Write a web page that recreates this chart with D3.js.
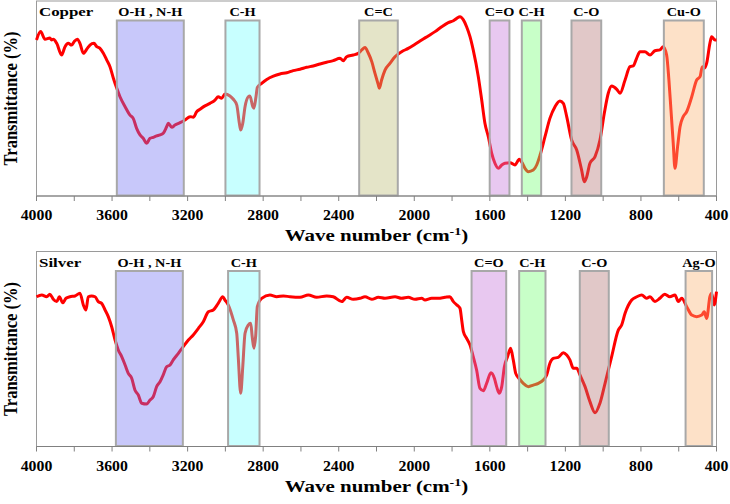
<!DOCTYPE html>
<html>
  <head>
    <style>
      body { margin: 0; background: #fff; }
      text { font-family: "Liberation Serif", "Times New Roman", serif; font-weight: bold; fill: #000; }
    </style>
  </head>
  <body>
    <script src="https://d3js.org/d3.v7.min.js"></script>
    <script>
      // FTIR spectra: [wavenumber, transmittance]
      const copper = [
        [4000,80.0],[3978,84.3],[3955,80.4],[3929,81.0],[3920,80.0],[3911,80.4],[3893,78.3],[3867,72.3],
        [3849,76.6],[3832,78.3],[3814,77.4],[3801,79.1],[3784,80.4],[3770,78.3],[3752,73.2],[3731,75.7],
        [3717,77.4],[3696,78.3],[3681,76.6],[3664,75.7],[3646,73.2],[3628,69.7],[3611,66.3],[3593,60.4],
        [3575,55.2],[3558,50.9],[3531,45.8],[3505,41.5],[3488,39.8],[3470,34.7],[3452,31.3],[3435,29.6],
        [3417,27.0],[3399,29.6],[3382,30.1],[3364,30.8],[3346,31.3],[3329,32.2],[3311,35.5],[3302,37.3],
        [3284,35.2],[3267,36.4],[3240,37.6],[3214,39.0],[3187,40.7],[3170,40.4],[3152,43.2],[3134,44.5],
        [3108,46.2],[3082,47.5],[3055,49.2],[3038,50.9],[3020,50.1],[3002,52.3],[2976,51.3],[2958,49.6],
        [2940,46.7],[2926,37.3],[2919,33.8],[2908,37.3],[2896,45.8],[2879,50.9],[2870,51.3],[2855,45.8],
        [2849,45.0],[2838,50.9],[2831,55.7],[2808,57.8],[2781,59.8],[2746,61.5],[2711,62.6],[2675,63.2],
        [2641,64.3],[2605,65.0],[2570,66.0],[2535,66.7],[2499,67.7],[2464,68.6],[2429,69.4],[2393,70.6],
        [2376,69.4],[2358,71.4],[2323,72.3],[2296,73.2],[2278,74.9],[2261,76.1],[2243,73.2],[2225,68.9],
        [2208,62.9],[2190,56.9],[2185,55.2],[2173,59.5],[2155,64.6],[2129,68.0],[2102,71.4],[2067,74.0],
        [2032,75.7],[1996,77.8],[1961,80.0],[1926,82.1],[1890,84.3],[1855,86.8],[1820,88.9],[1793,89.9],
        [1775,91.1],[1758,91.9],[1740,90.3],[1723,86.8],[1705,81.7],[1688,74.9],[1661,61.2],[1643,49.2],
        [1626,37.3],[1608,30.4],[1590,21.9],[1573,16.8],[1555,14.2],[1537,15.9],[1520,16.8],[1493,17.1],
        [1467,15.9],[1444,18.8],[1431,17.4],[1414,14.2],[1396,12.5],[1370,13.3],[1352,15.9],[1334,21.0],
        [1308,30.4],[1282,39.8],[1255,45.8],[1229,48.7],[1211,47.5],[1193,40.7],[1167,28.7],[1140,23.6],
        [1114,13.3],[1100,7.3],[1087,9.9],[1070,16.8],[1043,20.2],[1017,28.7],[994,42.4],[973,52.7],
        [955,56.4],[928,54.7],[911,52.7],[884,59.5],[858,66.3],[841,66.7],[823,70.6],[805,74.0],
        [779,74.0],[752,72.3],[726,74.5],[700,74.9],[682,76.6],[664,72.3],[652,59.5],[641,44.1],
        [629,27.0],[620,14.2],[606,25.3],[593,35.5],[576,40.7],[558,43.2],[531,50.9],[505,59.5],
        [487,61.2],[475,66.3],[465,65.5],[452,68.1],[435,78.3],[426,81.7],[408,80.0],[400,80.0]
      ];
      const silver = [
        [4000,76.8],[3972,77.7],[3946,76.8],[3929,78.1],[3911,75.5],[3893,74.3],[3879,76.8],[3861,73.7],
        [3844,76.0],[3823,76.8],[3796,77.2],[3770,78.6],[3752,72.6],[3738,70.0],[3726,76.8],[3708,77.2],
        [3690,76.8],[3673,74.3],[3655,73.4],[3637,70.0],[3620,66.6],[3602,61.4],[3584,54.6],[3567,49.5],
        [3549,46.1],[3531,41.8],[3514,37.5],[3496,35.0],[3479,29.0],[3461,26.4],[3443,22.2],[3417,21.8],
        [3399,23.8],[3382,25.5],[3364,30.7],[3346,33.2],[3329,36.7],[3311,40.9],[3293,41.8],[3276,44.4],
        [3249,47.8],[3223,51.2],[3196,54.6],[3170,57.2],[3143,60.6],[3117,64.0],[3090,69.1],[3064,70.0],
        [3038,73.4],[3014,76.8],[3002,75.1],[2985,72.6],[2958,64.9],[2940,58.1],[2932,46.1],[2919,27.3],
        [2908,40.9],[2896,58.1],[2879,62.3],[2866,63.2],[2858,56.3],[2849,50.4],[2840,56.3],[2831,71.7],
        [2808,76.0],[2764,77.7],[2728,76.8],[2693,77.2],[2658,76.8],[2605,76.5],[2561,77.7],[2517,76.5],
        [2464,77.2],[2429,76.8],[2384,74.3],[2358,76.5],[2323,75.5],[2287,76.0],[2261,76.8],[2225,75.5],
        [2190,76.5],[2155,76.0],[2102,76.8],[2067,76.0],[2032,76.5],[1996,75.5],[1961,76.0],[1943,75.1],
        [1908,76.0],[1873,76.0],[1837,76.5],[1811,76.8],[1793,74.3],[1775,72.6],[1758,70.9],[1749,64.9],
        [1740,58.9],[1723,55.5],[1705,52.1],[1688,46.1],[1670,39.2],[1652,29.8],[1634,28.6],[1617,32.4],
        [1594,37.8],[1576,35.0],[1564,30.7],[1550,27.3],[1537,30.7],[1523,40.9],[1506,46.1],[1490,50.4],
        [1476,44.4],[1463,37.5],[1446,35.0],[1423,32.4],[1396,30.7],[1370,31.5],[1343,32.4],[1317,34.1],
        [1299,36.7],[1282,42.7],[1264,45.2],[1238,45.7],[1211,48.1],[1193,46.9],[1176,44.4],[1158,40.1],
        [1140,40.1],[1123,36.7],[1096,30.7],[1070,23.0],[1043,17.3],[1017,22.2],[990,32.4],[955,46.1],
        [920,59.7],[902,62.3],[884,68.3],[849,75.1],[822,76.8],[796,77.7],[770,76.0],[752,76.8],
        [726,74.3],[700,76.0],[674,78.1],[647,76.8],[620,77.7],[602,74.3],[584,76.0],[558,71.7],
        [531,67.4],[505,66.6],[478,67.4],[465,69.1],[452,65.7],[435,76.8],[426,78.6],[412,72.6],[400,79.4]
      ];
      // absorption bands: [label, from, to] in cm-1
      const copperBands = [
        ["O-H , N-H", 3580, 3215], ["C-H", 3005, 2814], ["C=C", 2297, 2082], ["C=O", 1606, 1491],
        ["C-H", 1436, 1323], ["C-O", 1173, 1005], ["Cu-O", 684, 462]
      ];
      const silverBands = [
        ["O-H , N-H", 3585, 3220], ["C-H", 2991, 2814], ["C=O", 1702, 1508],
        ["C-H", 1450, 1300], ["C-O", 1129, 965], ["Ag-O", 569, 418]
      ];
      const copperFills = ["#7676f3", "#76ffff", "#bcbc76", "#c676da", "#76ff76", "#b47676", "#fab476"];
      const silverFills = ["#7676f3", "#76ffff", "#c676da", "#76ff76", "#b47676", "#fab476"];
      const tickLabels = d3.range(4000, 399, -400);
      const minorTicks = d3.range(4000, 399, -200);

      const svg = d3.select("body").append("svg")
        .attr("width", 730)
        .attr("height", 504);

      const x = d3.scaleLinear().domain([4000, 400]).range([36.5, 716.5]);

      function stretched(g, str, px, py, k) {
        return g.append("text")
          .attr("transform", "translate(" + px + "," + py + ") scale(" + k + ",1)")
          .text(str);
      }

      function drawPanel(name, data, bands, fills, top) {
        const bottom = top + 195;
        const y = d3.scaleLinear().domain([0, 100]).range([bottom, top]);
        const g = svg.append("g");

        // frame
        g.append("rect")
          .attr("x", x(4000)).attr("y", top)
          .attr("width", x(400) - x(4000)).attr("height", bottom - top)
          .attr("fill", "none").attr("stroke", "#9a9a9a").attr("stroke-width", 1);

        // spectrum
        const line = d3.line()
          .x(d => x(d[0]))
          .y(d => y(d[1]))
          .curve(d3.curveMonotoneX);
        g.append("path")
          .datum(data)
          .attr("d", line)
          .attr("fill", "none")
          .attr("stroke", "#ff0000")
          .attr("stroke-width", 3)
          .attr("stroke-linejoin", "round");

        // bands on top of the curve (semi transparent)
        bands.forEach((b, i) => {
          g.append("rect")
            .attr("x", x(b[1]) + 1)
            .attr("y", top + 19.5)
            .attr("width", x(b[2]) - x(b[1]) - 2)
            .attr("height", bottom - top - 20)
            .attr("fill", fills[i])
            .attr("fill-opacity", 0.4)
            .attr("stroke", "#a8a8a8")
            .attr("stroke-width", 2);
          stretched(g, b[0], (x(b[1]) + x(b[2])) / 2, top + 15, 1.1)
            .attr("text-anchor", "middle")
            .attr("font-size", 13);
        });

        stretched(g, name, 39, top + 15, 1.25)
          .attr("font-size", 13.5);

        // x axis
        const axis = g.append("g").attr("transform", "translate(0," + bottom + ")");
        axis.append("line")
          .attr("x1", x(4000)).attr("x2", x(400))
          .attr("stroke", "#808080").attr("stroke-width", 1.2);
        axis.selectAll("line.tick").data(minorTicks).join("line")
          .attr("class", "tick")
          .attr("x1", d => x(d)).attr("x2", d => x(d))
          .attr("y1", 0).attr("y2", 5)
          .attr("stroke", "#808080");
        tickLabels.forEach(t => {
          stretched(axis, t, x(t), 24, 1.13)
            .attr("text-anchor", "middle")
            .attr("font-size", 14);
        });

        const title = stretched(g, "Wave number (cm", (x(4000) + x(400)) / 2, bottom + 45, 1.27)
          .attr("text-anchor", "middle")
          .attr("font-size", 16.5);
        title.append("tspan").attr("dy", -6).attr("font-size", 11).text("-1");
        title.append("tspan").attr("dy", 6).text(")");

        g.append("text")
          .attr("transform", "translate(17," + (top + bottom) / 2 + ") scale(1.16,1) rotate(-90)")
          .attr("text-anchor", "middle")
          .attr("font-size", 16.5)
          .text("Transmittance (%)");
      }

      drawPanel("Copper", copper, copperBands, copperFills, 1);
      drawPanel("Silver", silver, silverBands, silverFills, 251.5);
    </script>
  </body>
</html>
